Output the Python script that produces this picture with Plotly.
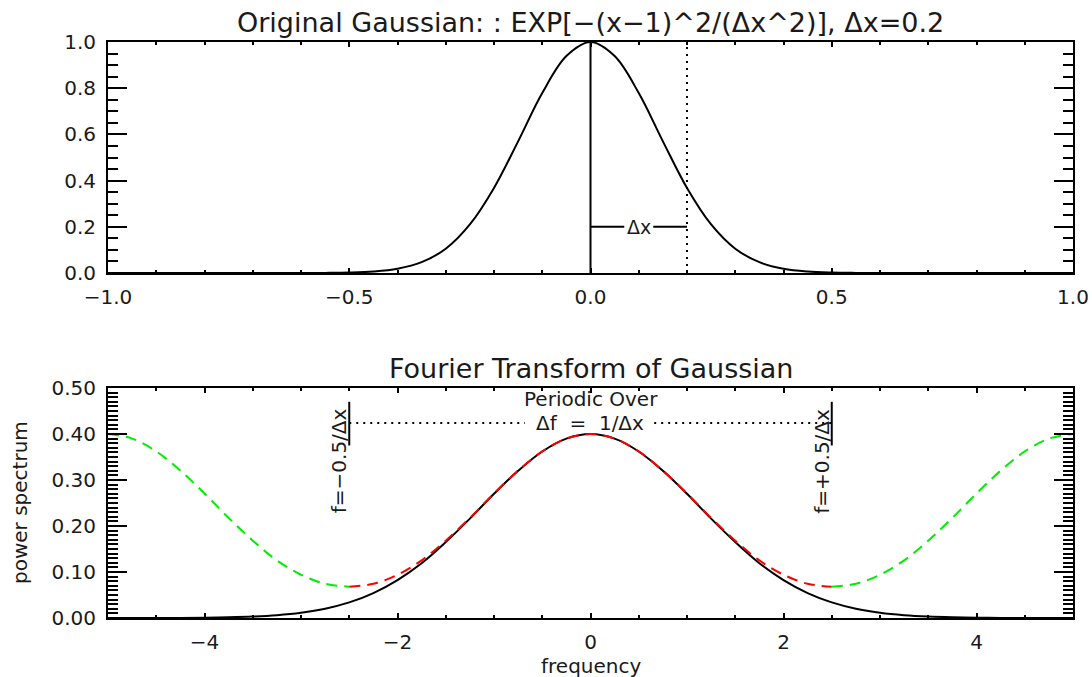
import plotly.graph_objects as go

# ---------------- data ----------------
# Top panel: original Gaussian
top_x = [-1.0, -0.6, -0.55, -0.5, -0.45, -0.4, -0.35, -0.3, -0.25, -0.2, -0.15, -0.1, -0.05,
         0.0, 0.05, 0.1, 0.15, 0.2, 0.25, 0.3, 0.35, 0.4, 0.45, 0.5, 0.55, 0.6, 1.0]
top_y = [0.0, 0.0001, 0.0005, 0.0019, 0.0063, 0.0183, 0.0468, 0.105, 0.210, 0.368, 0.570, 0.779, 0.939,
         1.0, 0.939, 0.779, 0.570, 0.368, 0.210, 0.105, 0.0468, 0.0183, 0.0063, 0.0019, 0.0005, 0.0001, 0.0]

# Bottom panel: Fourier transform (black solid)
freq = [-5.0, -4.75, -4.5, -4.25, -4.0, -3.75, -3.5, -3.25, -3.0, -2.75, -2.5, -2.25, -2.0, -1.75,
        -1.5, -1.25, -1.0, -0.75, -0.5, -0.25, 0.0, 0.25, 0.5, 0.75, 1.0, 1.25, 1.5, 1.75, 2.0,
        2.25, 2.5, 2.75, 3.0, 3.25, 3.5, 3.75, 4.0, 4.25, 4.5, 4.75, 5.0]
ft_power = [0.0, 0.0, 0.0, 0.0002, 0.0007, 0.0016, 0.0032, 0.0062, 0.0115, 0.0202, 0.0339, 0.0542,
            0.0825, 0.119, 0.165, 0.216, 0.270, 0.320, 0.362, 0.390, 0.400, 0.390, 0.362, 0.320,
            0.270, 0.216, 0.165, 0.119, 0.0825, 0.0542, 0.0339, 0.0202, 0.0115, 0.0062, 0.0032,
            0.0016, 0.0007, 0.0002, 0.0, 0.0, 0.0]

# Periodic (aliased) spectrum, red part inside the Nyquist band
red_f = [-2.5, -2.25, -2.0, -1.75, -1.5, -1.25, -1.0, -0.75, -0.5, -0.25, 0.0,
         0.25, 0.5, 0.75, 1.0, 1.25, 1.5, 1.75, 2.0, 2.25, 2.5]
red_p = [0.068, 0.0744, 0.094, 0.1252, 0.1682, 0.2176, 0.2707, 0.3203, 0.3621, 0.390, 0.400,
         0.390, 0.3621, 0.3203, 0.2707, 0.2176, 0.1682, 0.1252, 0.094, 0.0744, 0.068]
# Green parts outside the band
green_left_f = [-5.0, -4.75, -4.5, -4.25, -4.0, -3.75, -3.5, -3.25, -3.0, -2.75, -2.5]
green_left_p = [0.400, 0.390, 0.3621, 0.3203, 0.2707, 0.2176, 0.1682, 0.1252, 0.094, 0.0744, 0.068]
green_right_f = [2.5, 2.75, 3.0, 3.25, 3.5, 3.75, 4.0, 4.25, 4.5, 4.75, 5.0]
green_right_p = [0.068, 0.0744, 0.094, 0.1252, 0.1682, 0.2176, 0.2707, 0.3203, 0.3621, 0.390, 0.400]

# Annotation guide values
dx = 0.2
dx_label_y = 0.2
dx_gap = [0.07, 0.13]
nyq = [-2.5, 2.5]
nyq_bar = [0.375, 0.47]
period_y = 0.424
period_gap = [-0.68, 0.66]

FONT = "DejaVu Sans"
TXT = "#1a1a1a"

fig = go.Figure()

# ---- top panel
fig.add_trace(go.Scatter(x=top_x, y=top_y, mode="lines", line=dict(color="black", width=2, shape="spline"),
                         xaxis="x", yaxis="y", showlegend=False, hoverinfo="skip"))
fig.add_trace(go.Scatter(x=[0, 0], y=[0, 1], mode="lines", line=dict(color="black", width=2),
                         xaxis="x", yaxis="y", showlegend=False))
fig.add_trace(go.Scatter(x=[dx, dx], y=[0, 1], mode="lines", line=dict(color="black", width=2, dash="2px,5px"),
                         xaxis="x", yaxis="y", showlegend=False))
fig.add_trace(go.Scatter(x=[0, dx_gap[0], None, dx_gap[1], dx], y=[dx_label_y, dx_label_y, None, dx_label_y, dx_label_y],
                         mode="lines", line=dict(color="black", width=2),
                         xaxis="x", yaxis="y", showlegend=False))

# ---- bottom panel
fig.add_trace(go.Scatter(x=freq, y=ft_power, mode="lines", line=dict(color="black", width=2, shape="spline"),
                         xaxis="x2", yaxis="y2", showlegend=False))
fig.add_trace(go.Scatter(x=red_f, y=red_p, mode="lines",
                         line=dict(color="#ff0000", width=2, dash="11px,7px", shape="spline"),
                         xaxis="x2", yaxis="y2", showlegend=False))
fig.add_trace(go.Scatter(x=green_left_f, y=green_left_p, mode="lines",
                         line=dict(color="#00ee00", width=2, dash="11px,7px", shape="spline"),
                         xaxis="x2", yaxis="y2", showlegend=False))
fig.add_trace(go.Scatter(x=green_right_f, y=green_right_p, mode="lines",
                         line=dict(color="#00ee00", width=2, dash="11px,7px", shape="spline"),
                         xaxis="x2", yaxis="y2", showlegend=False))
for f0 in nyq:
    fig.add_trace(go.Scatter(x=[f0, f0], y=nyq_bar, mode="lines", line=dict(color="black", width=2),
                             xaxis="x2", yaxis="y2", showlegend=False))
fig.add_trace(go.Scatter(x=[nyq[0], period_gap[0], None, period_gap[1], nyq[1]],
                         y=[period_y, period_y, None, period_y, period_y], mode="lines",
                         line=dict(color="black", width=2, dash="2px,5px"),
                         xaxis="x2", yaxis="y2", showlegend=False))

# ---- axes
def xax(domain, rng, dtick, mdtick, anchor, fmt):
    return dict(domain=domain, range=rng, anchor=anchor, showgrid=False, zeroline=False, automargin=False,
                showline=True, linecolor="black", linewidth=2, mirror="allticks",
                ticks="inside", ticklen=5, tickwidth=2, tickcolor="black", dtick=dtick, tick0=0,
                tickformat=fmt, ticklabelstandoff=5,
                tickfont=dict(family=FONT, size=20, color=TXT),
                minor=dict(dtick=mdtick, tick0=0, ticks="inside", ticklen=3, tickwidth=2, tickcolor="black"))

def yax(domain, rng, dtick, mdtick, anchor, fmt):
    return dict(domain=domain, range=rng, anchor=anchor, showgrid=False, zeroline=False, automargin=False,
                showline=True, linecolor="black", linewidth=2, mirror="allticks",
                ticks="inside", ticklen=19, tickwidth=2, tickcolor="black", dtick=dtick, tick0=0,
                tickformat=fmt, ticklabelstandoff=6,
                tickfont=dict(family=FONT, size=20, color=TXT),
                minor=dict(dtick=mdtick, tick0=0, ticks="inside", ticklen=10, tickwidth=2, tickcolor="black"))

W, H = 1092, 677
xd = [108 / W, 1073 / W]
fig.update_layout(
    width=W, height=H, margin=dict(l=0, r=0, t=0, b=0, autoexpand=False),
    paper_bgcolor="white", plot_bgcolor="white",
    xaxis=xax(xd, [-1, 1], 0.5, 0.1, "y", ".1f"),
    yaxis=yax([1 - 273 / H, 1 - 42 / H], [0, 1.0], 0.2, 0.05, "x", ".1f"),
    xaxis2=xax(xd, [-5, 5], 2, 0.5, "y2", "d"),
    yaxis2=yax([1 - 618 / H, 1 - 388 / H], [0, 0.5], 0.1, 0.01, "x2", ".2f"),
)

ann = []
ann.append(dict(text="Original Gaussian: : EXP[−(x−1)^2/(Δx^2)], Δx=0.2", xref="x domain", yref="paper",
                x=0.5, y=1 - 22 / H, showarrow=False, font=dict(family=FONT, size=27, color=TXT),
                xanchor="center", yanchor="middle"))
ann.append(dict(text="Fourier Transform of Gaussian", xref="x2 domain", yref="paper",
                x=0.5, y=1 - 368 / H, showarrow=False, font=dict(family=FONT, size=27, color=TXT),
                xanchor="center", yanchor="middle"))
ann.append(dict(text="Δx", xref="x", yref="y", x=(dx_gap[0] + dx_gap[1]) / 2, y=dx_label_y,
                showarrow=False, font=dict(family=FONT, size=19, color=TXT), xanchor="center", yanchor="middle"))
ann.append(dict(text="Periodic Over", xref="x2", yref="y2", x=0, y=0.476, showarrow=False,
                font=dict(family=FONT, size=20, color=TXT), xanchor="center", yanchor="middle"))
ann.append(dict(text="Δf  =  1/Δx", xref="x2", yref="y2", x=(period_gap[0] + period_gap[1]) / 2, y=period_y,
                showarrow=False, font=dict(family=FONT, size=20, color=TXT), xanchor="center", yanchor="middle"))
ann.append(dict(text="f=−0.5/Δx", xref="x2", yref="paper", x=nyq[0], y=1 - 461 / H, textangle=-90,
                showarrow=False, font=dict(family=FONT, size=20, color=TXT), xanchor="right", yanchor="middle",
                xshift=4))
ann.append(dict(text="f=+0.5/Δx", xref="x2", yref="paper", x=nyq[1], y=1 - 461 / H, textangle=-90,
                showarrow=False, font=dict(family=FONT, size=20, color=TXT), xanchor="right", yanchor="middle",
                xshift=4))
ann.append(dict(text="frequency", xref="x2 domain", yref="paper", x=0.5, y=1 - 666 / H, showarrow=False,
                font=dict(family=FONT, size=20, color=TXT), xanchor="center", yanchor="middle"))
ann.append(dict(text="power spectrum", xref="paper", yref="paper", x=20 / W, y=1 - 503 / H, textangle=-90,
                showarrow=False, font=dict(family=FONT, size=20, color=TXT), xanchor="center", yanchor="middle"))
fig.update_layout(annotations=ann)

fig.write_html("out.html")
